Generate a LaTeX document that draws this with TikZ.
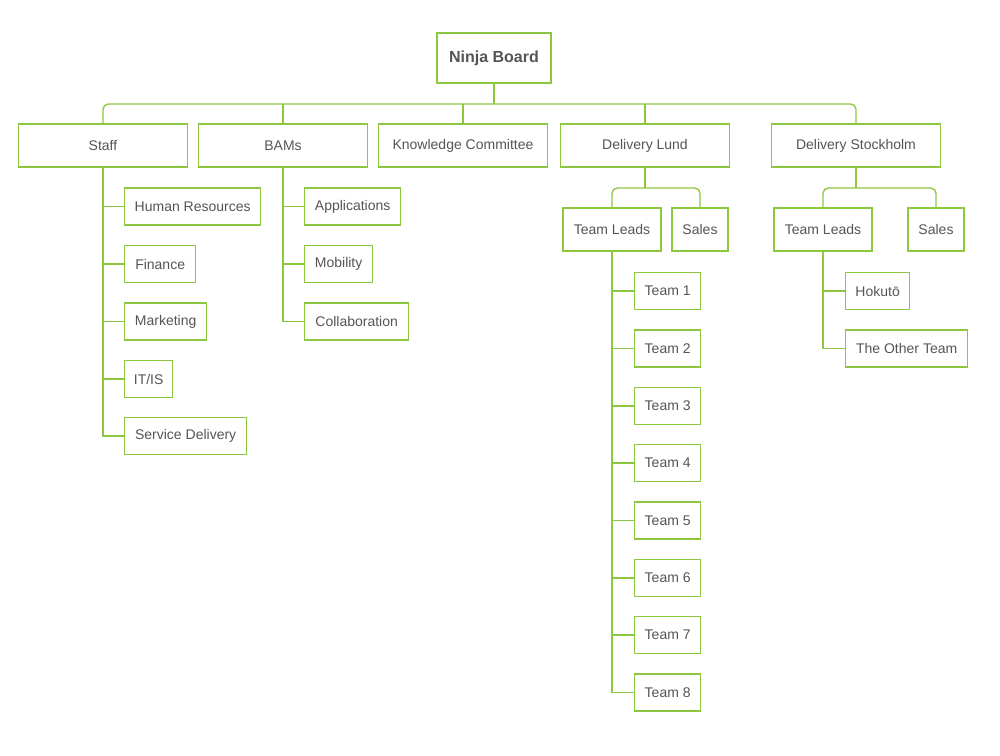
\documentclass[tikz,border=0pt]{standalone}
\usepackage{fontspec}
\setmainfont{Liberation Sans}
\definecolor{lgreen}{HTML}{8DC63F}
\definecolor{tgray}{HTML}{555555}
\begin{document}
\begin{tikzpicture}[x=0.75pt,y=-0.75pt,
  box/.style={draw=lgreen,line width=1pt,fill=white,text=tgray,inner sep=0pt,
    font=\fontsize{10.5}{12}\selectfont},
  top/.style={box,minimum width=126.75pt,minimum height=32.25pt},
  sub/.style={box,minimum height=27.75pt,anchor=west},
  mid/.style={box,minimum height=32.25pt},
  conn/.style={draw=lgreen,line width=1pt},
  bus/.style={conn,rounded corners=4pt}]
\useasboundingbox (0,0) rectangle (1000,756);
% root
\node[box,minimum width=85.5pt,minimum height=37.5pt,font=\fontsize{12}{14}\selectfont\bfseries] (board) at (494,58) {Ninja Board};
% top level
\node[top] (staff) at (103,145.5) {Staff};
\node[top] (bams) at (283,145.5) {BAMs};
\node[top] (kc) at (463,145.5) {Knowledge Committee};
\node[top] (dl) at (645,145.5) {Delivery Lund};
\node[top] (ds) at (856,145.5) {Delivery Stockholm};
\coordinate (bus) at (494,104);
\draw[conn] (board.south) -- (bus);
\draw[bus] (staff.north) -- (staff.north |- bus) -- (ds.north |- bus) -- (ds.north);
\draw[conn] (bams.north |- bus) -- (bams.north);
\draw[conn] (kc.north |- bus) -- (kc.north);
\draw[conn] (dl.north |- bus) -- (dl.north);
% staff children
\node[sub,minimum width=102pt] (hr) at (124,206.5) {Human Resources};
\node[sub,minimum width=53.25pt] (fin) at (124,264) {Finance};
\node[sub,minimum width=61.5pt] (mkt) at (124,321.5) {Marketing};
\node[sub,minimum width=36pt] (itis) at (124,379) {IT/IS};
\node[sub,minimum width=91.5pt] (sd) at (124,436) {Service Delivery};
\draw[conn] (staff.south) |- (sd.west);
\foreach \n in {hr,fin,mkt,itis}{\draw[conn] (staff.south |- \n.west) -- (\n.west);}
% BAMs children
\node[sub,minimum width=72pt] (app) at (304,206.5) {Applications};
\node[sub,minimum width=51pt] (mob) at (304,264) {Mobility};
\node[sub,minimum width=78pt] (col) at (304,321.5) {Collaboration};
\draw[conn] (bams.south) |- (col.west);
\foreach \n in {app,mob}{\draw[conn] (bams.south |- \n.west) -- (\n.west);}
% Delivery Lund
\node[mid,minimum width=73.5pt] (tll) at (612,229.5) {Team Leads};
\node[mid,minimum width=42pt] (sl) at (700,229.5) {Sales};
\coordinate (busl) at (645,188);
\draw[conn] (dl.south) -- (busl);
\draw[bus] (tll.north) -- (tll.north |- busl) -- (sl.north |- busl) -- (sl.north);
\foreach \i/\y in {1/291,2/348.5,3/406,4/463,5/520.5,6/578,7/635,8/692.5}{
  \node[sub,minimum width=49.5pt] (t\i) at (634,\y) {Team \i};
}
\draw[conn] (tll.south) |- (t8.west);
\foreach \i in {1,...,7}{\draw[conn] (tll.south |- t\i.west) -- (t\i.west);}
% Delivery Stockholm
\node[mid,minimum width=73.5pt] (tls) at (823,229.5) {Team Leads};
\node[mid,minimum width=42pt] (ss) at (936,229.5) {Sales};
\coordinate (buss) at (856,188);
\draw[conn] (ds.south) -- (buss);
\draw[bus] (tls.north) -- (tls.north |- buss) -- (ss.north |- buss) -- (ss.north);
\node[sub,minimum width=48pt] (hok) at (845,291) {Hokutō};
\node[sub,minimum width=91.5pt] (ot) at (845,348.5) {The Other Team};
\draw[conn] (tls.south) |- (ot.west);
\draw[conn] (tls.south |- hok.west) -- (hok.west);
\end{tikzpicture}
\end{document}
